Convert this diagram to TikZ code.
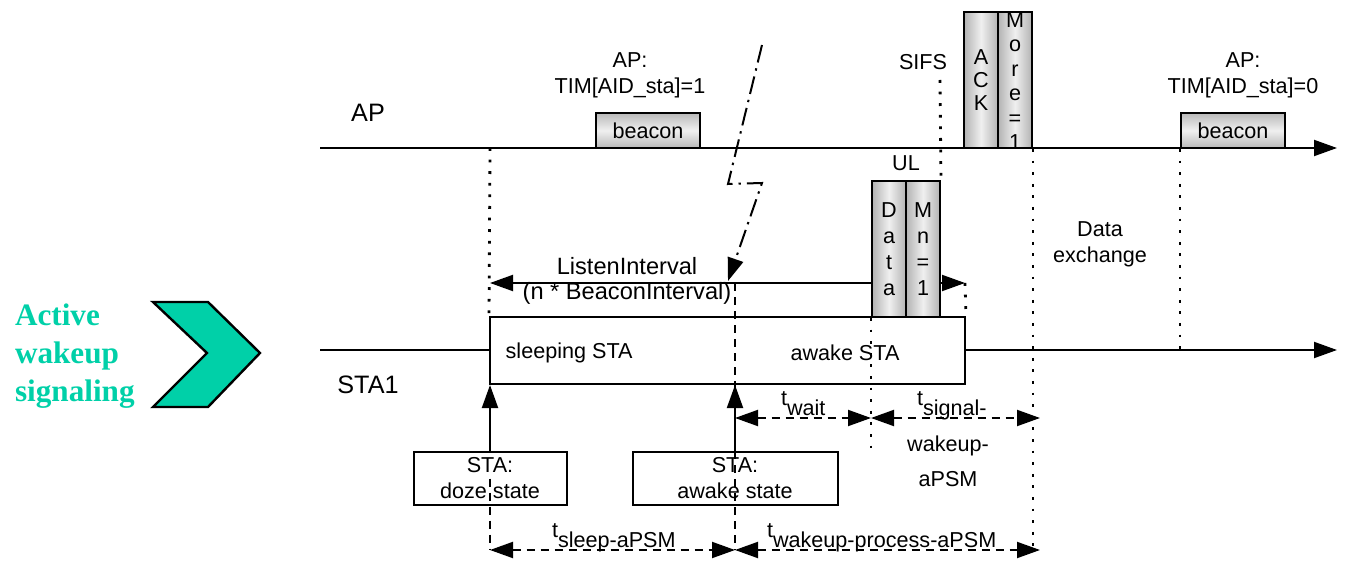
\documentclass[tikz,border=0pt]{standalone}
\usepackage{fontspec}
\setmainfont{Liberation Sans}
\newfontfamily\titlefont{Liberation Serif}
\usepackage{xcolor}
\definecolor{wakegreen}{RGB}{0, 208, 168}
\usepackage{tikz}
\usetikzlibrary{arrows.meta, positioning, calc}

\newcommand{\tlabel}[1]{t\raisebox{-5pt}{#1}}

\begin{document}
\begin{tikzpicture}[x=0.5pt, y=-0.5pt, >={Triangle[length=11.5pt, width=8pt]},
    line width=1pt, font=\fontsize{10.8}{13}\selectfont,
    frame/.style={draw, line width=1pt, inner sep=0pt, align=center},
    beaconbox/.style={frame, top color=gray!55, bottom color=gray!55, middle color=gray!12,
        minimum width=52pt, minimum height=17.5pt},
    slot/.style={frame, left color=gray!60, right color=gray!60, middle color=gray!12,
        minimum width=17pt, minimum height=68pt},
    dotline/.style={line width=1.4pt, dash pattern=on 1.4pt off 4.4pt},
    dashline/.style={line width=1pt, dash pattern=on 4pt off 3pt},
    boltline/.style={line width=1pt, dash pattern=on 9pt off 3pt on 1.2pt off 3pt},
    biglabel/.style={font=\fontsize{12.6}{15}\selectfont}]

    \useasboundingbox (0,0) rectangle (1349,561);

    \coordinate (apStart) at (320,148);
    \coordinate (apEnd) at (1337,148);
    \coordinate (staStart) at (320,350);
    \coordinate (staEnd) at (1337,350);
    \coordinate (sleepTop) at (490,148);
    \coordinate (liLeft) at (490,283);
    \coordinate (liRight) at (965,283);
    \coordinate (wakeTop) at (735,283);
    \coordinate (sifsTop) at (940,80);
    \coordinate (waitLeft) at (735,418);
    \coordinate (waitRight) at (1040,418);
    \coordinate (bottomLeft) at (490,550);
    \coordinate (bottomRight) at (1040,550);

    % wakeup chevron
    \filldraw[fill=wakegreen, draw=black, line width=1.2pt]
        (153,302) -- (208,302) -- (260,353) -- (208,407) -- (153,407) -- (207,353) -- cycle;
    \node[anchor=west, align=left, text=wakegreen, inner sep=0pt,
        font=\titlefont\bfseries\fontsize{15.6}{19}\selectfont] (wakelbl) at (14,356)
        {Active\\wakeup\\signaling};

    % time lines
    \draw[->] (apStart) -- (apEnd);
    \draw[->] (staStart) -- (staEnd);
    \node[biglabel] (aplbl) at (368,113) {AP};
    \node[biglabel] (stalbl) at (368,385) {STA1};

    % AP frames
    \node[beaconbox] (beacon1) at (648,130.5) {beacon};
    \node[beaconbox] (beacon2) at (1233,130.5) {beacon};
    \node[align=center] (tim1) at (630,75) {AP:\\TIM[AID\_sta]=1};
    \node[align=center] (tim0) at (1243,75) {AP:\\TIM[AID\_sta]=0};
    \node[slot, font=\fontsize{10.8}{11.5}\selectfont] (ack) at (981,80) {A\\C\\K};
    \node[slot] (more) at (1015,80) {};
    \node[align=center, inner sep=0pt, font=\fontsize{10.8}{12.2}\selectfont] (morelbl) at (1015,81)
        {M\\o\\r\\e\\=\\1};
    \node (sifslbl) at (923,62) {SIFS};

    % STA frames
    \node[slot, font=\fontsize{10.8}{13}\selectfont] (data) at (889,249) {D\\a\\t\\a};
    \node[slot, font=\fontsize{10.8}{13}\selectfont] (mn) at (923,249) {M\\n\\=\\1};
    \node (ullbl) at (906,163) {UL};

    \node[frame, fill=white, minimum width=237.5pt, minimum height=33.5pt] (sta) at (727.5,350.5) {};
    \node[anchor=west] (sleeplbl) at (498,353) {sleeping STA};
    \node (awakelbl) at (845,353) {awake STA};

    \node[frame, minimum width=76.5pt, minimum height=26.5pt] (doze) at (490,478.5) {STA:\\doze state};
    \node[frame, minimum width=102.5pt, minimum height=26.5pt] (awake) at (735,478.5) {STA:\\awake state};

    % listen interval
    \draw[->] (data.west |- liLeft) -- (liLeft);
    \draw[->] (mn.east |- liRight) -- (liRight);
    \node[font=\fontsize{11.8}{14}\selectfont] (lilbl) at (627,266) {ListenInterval};
    \node[font=\fontsize{11.8}{14}\selectfont] (bilbl) at (627,293) {(n * BeaconInterval)};

    % bolt
    \draw[boltline, ->] (762,45) -- (728,184) -- (762,183) -- (728,281);

    % markers
    \draw[dotline] (sleepTop) -- (sta.north west);
    \draw[dotline] (liRight) -- (sta.north east);
    \draw[dotline] (sifsTop) -- (mn.north east);
    \draw[dotline] (more.south east) -- (more.south east |- bottomRight);
    \draw[dotline] (beacon2.south west) -- (beacon2.south west |- staEnd);
    \draw[dotline] (data.south west) -- (data.south west |- awake.north);
    \draw[dashline] (wakeTop) -- (wakeTop |- bottomLeft);
    \draw[dashline] (doze.center) -- (bottomLeft);
    \draw[->] (doze.north) -- (doze.north |- sta.south);
    \draw[->] (awake.north) -- (awake.north |- sta.south);

    % durations
    \draw[dashline, <->] (waitLeft) -- (waitLeft -| data.west);
    \draw[dashline, <->] (waitLeft -| data.west) -- (waitRight);
    \draw[dashline, <->] (bottomLeft) -- (bottomLeft -| wakeTop);
    \draw[dashline, <->] (bottomLeft -| wakeTop) -- (bottomRight);

    \node[anchor=base west, inner sep=0pt] (waitlbl) at (780,405) {\tlabel{wait}};
    \node[anchor=base west, inner sep=0pt] (signallbl) at (916,405) {\tlabel{signal-}};
    \node (wakeuplbl) at (948,446) {wakeup-};
    \node (apsmlbl) at (948,479) {aPSM};
    \node[anchor=base west, inner sep=0pt] (sleepdur) at (551,537) {\tlabel{sleep-aPSM}};
    \node[anchor=base west, inner sep=0pt] (wakedur) at (766,537) {\tlabel{wakeup-process-aPSM}};
    \node[align=center] (datalbl) at (1100,244) {Data\\exchange};
\end{tikzpicture}
\end{document}
